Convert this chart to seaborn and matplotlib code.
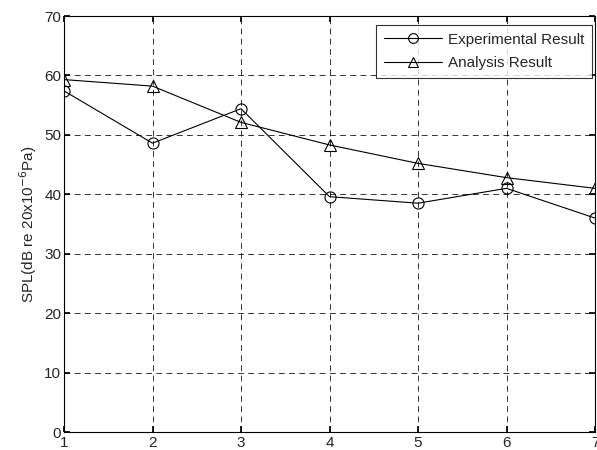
import matplotlib
matplotlib.use("Agg")
import matplotlib.pyplot as plt
import seaborn as sns
import pandas as pd

x_vals = [1, 2, 3, 4, 5, 6, 7]
experimental = [57.4, 48.6, 54.4, 39.6, 38.5, 41.0, 36.0]
analysis = [59.3, 58.2, 52.1, 48.3, 45.2, 42.8, 41.0]
series_names = ["Experimental Result", "Analysis Result"]
y_ticks = [0, 10, 20, 30, 40, 50, 60, 70]

sns.set_theme(style="white")
plt.rcParams['font.family'] = ['Liberation Sans', 'DejaVu Sans']

df = pd.DataFrame({
    "x": x_vals * 2,
    "y": experimental + analysis,
    "series": [series_names[0]] * len(x_vals) + [series_names[1]] * len(x_vals),
})

fig = plt.figure(figsize=(5.97, 4.5), dpi=100)
ax = fig.add_axes([64 / 597, 18 / 450, (595 - 64) / 597, (432 - 16) / 450])

sns.lineplot(data=df, x="x", y="y", style="series", markers={series_names[0]: "o", series_names[1]: "^"},
             dashes=False, color="black", linewidth=0.8, markersize=8,
             markerfacecolor="none", markeredgecolor="black", markeredgewidth=0.8,
             ax=ax, legend=True)

ax.set_xlim(1, 7)
ax.set_ylim(0, 70)
ax.set_xticks(x_vals)
ax.set_yticks(y_ticks)
ax.set_xlabel("")
ax.set_ylabel("SPL(dB re 20x10$^{-6}$Pa)", fontsize=11, labelpad=4)
ax.grid(True, color="black", linestyle=(0, (6, 4.5)), linewidth=0.7, alpha=0.8)
ax.tick_params(direction="in", length=4, labelsize=11, top=True, right=True,
               bottom=True, left=True, color="black")
ax.tick_params(axis="y", pad=2)
ax.tick_params(axis="x", pad=3)
for s in ax.spines.values():
    s.set_color("black")
    s.set_linewidth(0.8)

leg = ax.legend(loc="upper right", bbox_to_anchor=(0.9944, 0.978), fontsize=11,
                frameon=True, fancybox=False, edgecolor="black", handlelength=3.8,
                borderaxespad=0.0, labelspacing=0.6, borderpad=0.5,
                handletextpad=0.4)
leg.get_frame().set_linewidth(0.8)
for h in leg.legend_handles:
    h.set_markerfacecolor("none")
    h.set_markeredgecolor("black")
    h.set_color("black")
    h.set_markersize(7)

fig.savefig("out.png", dpi=100)
